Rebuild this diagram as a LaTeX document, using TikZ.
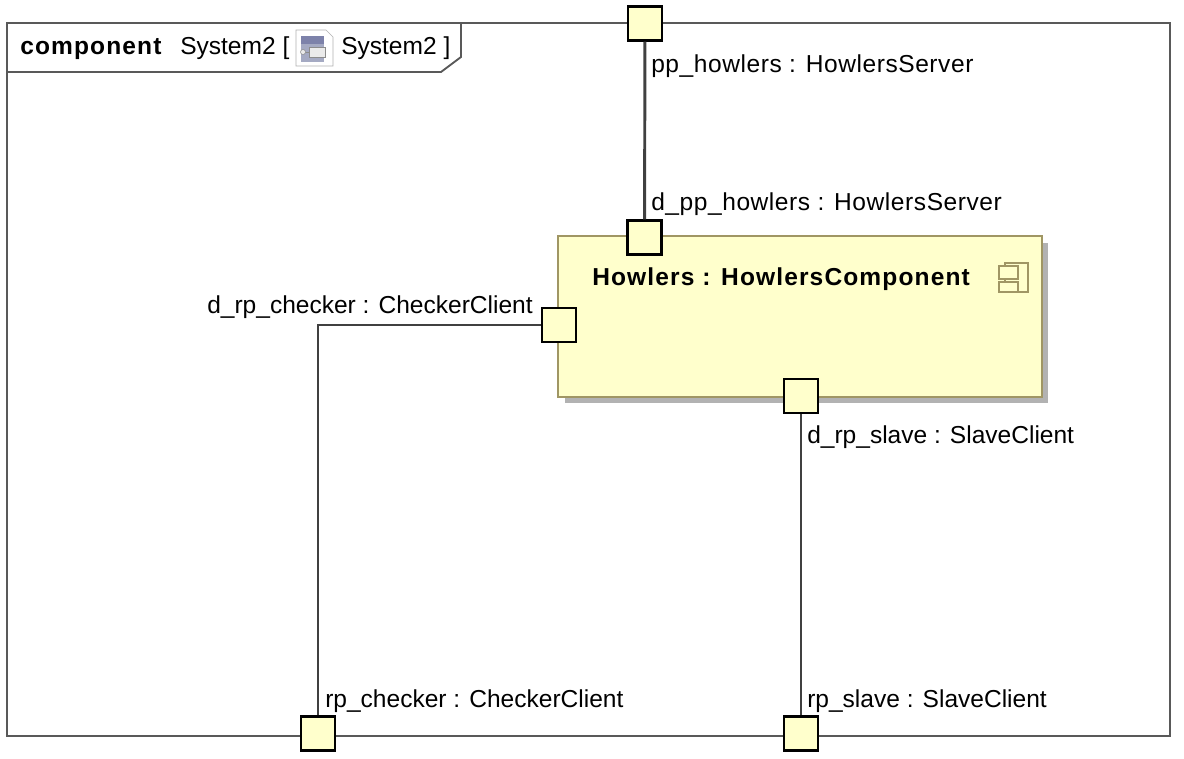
\documentclass[tikz,border=0pt]{standalone}
\usepackage{fontspec}
\setmainfont{Liberation Sans}
\definecolor{compfill}{RGB}{255,255,204}
\definecolor{compline}{RGB}{160,150,100}
\definecolor{iconblue}{RGB}{125,130,170}
\definecolor{iconpale}{RGB}{165,170,195}
\tikzset{
  port/.style={draw=black,line width=1.7pt,fill=compfill,minimum size=25.5pt,inner sep=0pt},
  lbl/.style={inner sep=0pt,font=\fontsize{18.4}{21}\selectfont},
  lblwide/.style={lbl,font=\fontsize{18.4}{21}\selectfont\addfontfeature{LetterSpace=2.3}},
  lblbold/.style={lbl,font=\fontsize{18.4}{21}\selectfont\bfseries\addfontfeature{LetterSpace=4.6}},
  wire/.style={draw=black!75,line width=2.2pt,xshift=-0.9pt}
}
\begin{document}
\begin{tikzpicture}[x=0.75pt,y=-0.75pt]
      \useasboundingbox (0,0) rectangle (1184,758);

      % frame and its tab
      \draw[black!65,line width=1.4pt] (7,23) rectangle (1170,736);
      \draw[black!65,line width=1.4pt,fill=white] (7,23) -- (461,23) -- (461,57) -- (441,72) -- (7,72) -- cycle;
      \node[lblbold,anchor=base west] (kind) at (20,54) {component};
      \node[lbl,anchor=base west] (name) at (180,54) {System2 [};
      \node[lbl,anchor=base west] (diagram) at (341,54) {System2 ]};

      % diagram icon
      \draw[black!30,fill=white] (296,30) -- (326,30) -- (333,37) -- (333,66) -- (296,66) -- cycle;
      \fill[iconpale] (301,36) rectangle (324,62);
      \fill[iconblue] (301,36) rectangle (324,44);
      \draw[black!45,fill=black!8] (309,47) rectangle (325,57);
      \draw[black!45] (304,52) -- (309,52);
      \draw[black!45,fill=black!8] (303,52) circle (2.5);

      % component
      \fill[black!30] (565,243) rectangle (1048,403);
      \node[draw=compline,line width=1.6pt,fill=compfill,minimum width=363pt,minimum height=120.75pt,inner sep=0pt] (howlers) at (800,316.5) {};
      \node[lblbold,anchor=base west] (title) at (592,285) {Howlers : HowlersComponent};

      % component icon
      \draw[compline,line width=1.1pt] (1005,263) rectangle (1028,292);
      \draw[compline,line width=1.1pt,fill=compfill] (999,266) rectangle (1018,279);
      \draw[compline,line width=1.1pt,fill=compfill] (999,282) rectangle (1018,292);

      % ports
      \node[port] (pp_howlers) at (645,23.5) {};
      \node[port] (d_pp_howlers) at (644.5,237.5) {};
      \node[port] (d_rp_checker) at (559,325) {};
      \node[port] (d_rp_slave) at (801,396) {};
      \node[port] (rp_checker) at (318,733.5) {};
      \node[port] (rp_slave) at (801,733.5) {};

      \draw[wire] (pp_howlers) -- (d_pp_howlers);
      \draw[wire] (d_rp_slave) -- (rp_slave);
      \draw[wire,line width=1.6pt] (d_rp_checker.west) -| (rp_checker.north);

      \node[lblwide,anchor=base west] (l1) at (651,72) {pp\_howlers : HowlersServer};
      \node[lblwide,anchor=base west] (l2) at (651,210) {d\_pp\_howlers : HowlersServer};
      \node[lbl,anchor=base east] (l3) at (533,313) {d\_rp\_checker : CheckerClient};
      \node[lbl,anchor=base west] (l4) at (807,443) {d\_rp\_slave : SlaveClient};
      \node[lbl,anchor=base west] (l5) at (325,707) {rp\_checker : CheckerClient};
      \node[lbl,anchor=base west] (l6) at (807,707) {rp\_slave : SlaveClient};
    \end{tikzpicture}
\end{document}
